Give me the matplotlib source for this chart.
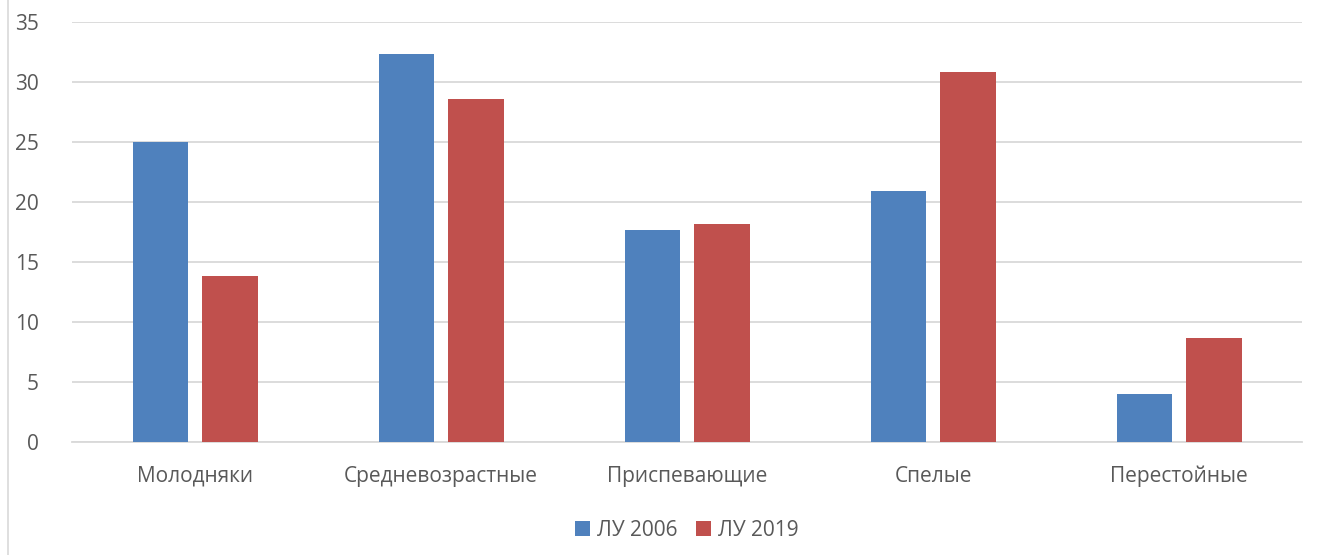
import numpy as np
import matplotlib.pyplot as plt
from matplotlib.lines import Line2D

plt.rcParams['font.family'] = ['Open Sans', 'DejaVu Sans']

# === Data
categories = ["Молодняки", "Средневозрастные", "Приспевающие", "Спелые", "Перестойные"]
lu_2006 = [25.0, 32.3, 17.7, 20.9, 4.0]
lu_2019 = [13.8, 28.6, 18.2, 30.8, 8.7]
series_labels = ["ЛУ 2006", "ЛУ 2019"]

blue = "#4F81BD"
red = "#C0504D"
text_color = "#595959"
grid_color = "#D9D9D9"

fig = plt.figure(figsize=(13.22, 5.55), dpi=100)
ax = fig.add_axes([0.0545, 0.2036, 0.9304, 0.7568])

x = np.arange(len(categories))
width = 0.224
offset = 0.142
ax.bar(x - offset, lu_2006, width, color=blue, label=series_labels[0], zorder=3)
ax.bar(x + offset, lu_2019, width, color=red, label=series_labels[1], zorder=3)

ax.set_xlim(-0.5, len(categories) - 0.5)
ax.set_ylim(0, 35)
ax.set_yticks(range(0, 36, 5))
ax.set_xticks(x)
ax.set_xticklabels(categories)

ax.yaxis.grid(True, color=grid_color, linewidth=1.3, zorder=0)
ax.set_axisbelow(True)
for side in ["top", "right", "left"]:
    ax.spines[side].set_visible(False)
ax.spines["bottom"].set_color(grid_color)
ax.spines["bottom"].set_linewidth(1.3)

ax.tick_params(axis='y', length=0, pad=24, labelsize=15, labelcolor=text_color)
ax.tick_params(axis='x', length=0, pad=17, labelsize=15, labelcolor=text_color)

ax.legend(loc="upper center", bbox_to_anchor=(0.5, -0.14), ncol=2, frameon=False,
          fontsize=15, labelcolor=text_color, handlelength=0.7, handleheight=0.7,
          handletextpad=0.35, columnspacing=0.9)

# outer chart border on the left
fig.add_artist(Line2D([7.5 / 1322, 7.5 / 1322], [0, 1], transform=fig.transFigure,
                      color=grid_color, linewidth=1.2))

fig.savefig("out.png", dpi=100)
